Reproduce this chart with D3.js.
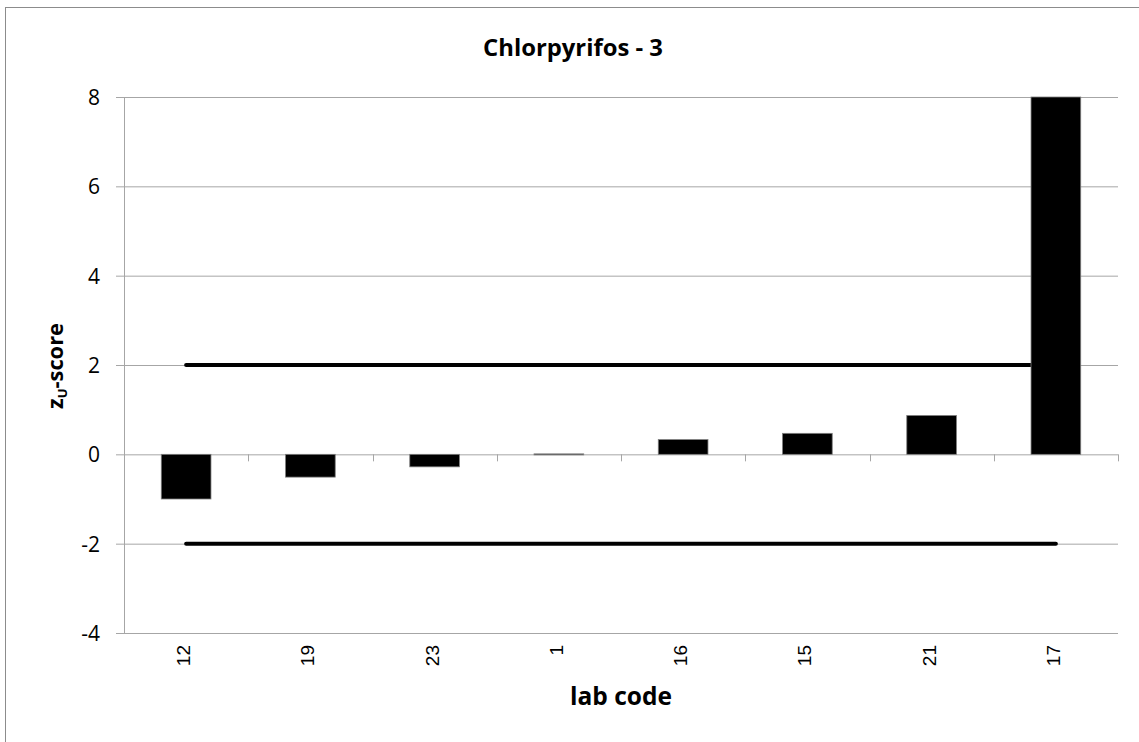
<!DOCTYPE html>
<html>
<head>
<meta charset="utf-8">
<script src="https://cdn.jsdelivr.net/npm/d3@7"></script>
<style>
  html, body { margin: 0; padding: 0; background: #fff; }
  svg { display: block; }
</style>
</head>
<body>
<svg id="chart" width="1139" height="742"></svg>
<script>
const labCodes = ["12", "19", "23", "1", "16", "15", "21", "17"];
const zScores = [-1.0, -0.51, -0.28, 0.01, 0.33, 0.47, 0.87, 8];
const yTicks = [-4, -2, 0, 2, 4, 6, 8];
const limitValues = [2, -2];
const titleText = "Chlorpyrifos - 3";
const xTitle = "lab code";

const W = 1139, H = 742;
const plot = { left: 124, right: 1118, top: 97, bottom: 633 };
const svg = d3.select("#chart");
const gridColor = "#a6a6a6";

// outer chart border
svg.append("rect").attr("x", 5.5).attr("y", 7.5).attr("width", W + 10).attr("height", H + 10)
  .attr("fill", "#fff").attr("stroke", "#8c8c8c").attr("stroke-width", 1);

const x = d3.scaleBand().domain(labCodes).range([plot.left, plot.right])
  .paddingInner(0.6).paddingOuter(0.3);
const y = d3.scaleLinear().domain([-4, 8]).range([plot.bottom, plot.top]).clamp(true);
const step = x.step();

// horizontal gridlines with left tick marks
const gy = svg.append("g")
  .attr("transform", `translate(${plot.left},0)`)
  .call(d3.axisLeft(y).tickValues(yTicks).tickSize(-(plot.right - plot.left)).tickFormat(d => d));
gy.select(".domain").remove();
gy.selectAll(".tick line").attr("stroke", gridColor).attr("x1", -8);
gy.selectAll(".tick text").attr("x", -24).attr("dy", "0.36em")
  .attr("font-family", "'Open Sans', sans-serif").attr("font-size", 21).attr("fill", "#000");

// y axis line
svg.append("line").attr("x1", plot.left + 0.5).attr("x2", plot.left + 0.5)
  .attr("y1", plot.top).attr("y2", plot.bottom).attr("stroke", gridColor);

// x axis at zero with tick marks at category boundaries
const boundaries = labCodes.map(c => x(c) - step * 0.3).concat([plot.right]);
svg.append("g").selectAll("line").data(boundaries).join("line")
  .attr("x1", d => Math.round(d) + 0.5).attr("x2", d => Math.round(d) + 0.5)
  .attr("y1", y(0)).attr("y2", y(0) + 7).attr("stroke", gridColor);

// limit lines (drawn behind bars)
svg.append("g").selectAll("line").data(limitValues).join("line")
  .attr("x1", x(labCodes[0]) + x.bandwidth() / 2)
  .attr("x2", x(labCodes[labCodes.length - 1]) + x.bandwidth() / 2)
  .attr("y1", d => y(d)).attr("y2", d => y(d))
  .attr("stroke", "#000").attr("stroke-width", 4).attr("stroke-linecap", "round");

// bars
svg.append("g").selectAll("rect").data(labCodes).join("rect")
  .attr("x", c => x(c))
  .attr("width", x.bandwidth())
  .attr("y", (c, i) => Math.min(y(zScores[i]), y(0)))
  .attr("height", (c, i) => Math.max(Math.abs(y(zScores[i]) - y(0)), 1))
  .attr("fill", "#000").attr("stroke", "#7f7f7f").attr("stroke-width", 0.8);

// x tick labels (rotated)
svg.append("g").selectAll("text").data(labCodes).join("text")
  .attr("transform", c => `translate(${x(c) + x.bandwidth() / 2 + 4},645) rotate(-90)`)
  .attr("text-anchor", "end")
  .attr("font-family", "'Liberation Sans', Arial, sans-serif").attr("font-size", 19)
  .attr("fill", "#000").text(c => c);

function fitWidth(sel, target) {
  const w = sel.node().getComputedTextLength();
  const fs = parseFloat(sel.attr("font-size"));
  sel.attr("font-size", fs * target / w);
}

// title
const t = svg.append("text").attr("x", 573).attr("y", 56).attr("text-anchor", "middle")
  .attr("font-family", "'Open Sans', sans-serif").attr("font-weight", "bold")
  .attr("font-size", 19).attr("fill", "#000").text(titleText);
fitWidth(t, 180);

// x axis title
const xt = svg.append("text").attr("x", (plot.left + plot.right) / 2).attr("y", 705)
  .attr("text-anchor", "middle")
  .attr("font-family", "'Open Sans', sans-serif").attr("font-weight", "bold")
  .attr("font-size", 20).attr("fill", "#000").text(xTitle);
fitWidth(xt, 102);

// y axis title z_U-score
const yt = svg.append("text").attr("transform", "translate(63,366) rotate(-90)")
  .attr("text-anchor", "middle")
  .attr("font-family", "'Open Sans', sans-serif").attr("font-weight", "bold")
  .attr("font-size", 18).attr("fill", "#000");
yt.append("tspan").text("z");
yt.append("tspan").attr("font-size", 13).attr("dy", 4).text("U");
yt.append("tspan").attr("dy", -4).text("-score");
fitWidth(yt, 88);
</script>
</body>
</html>
